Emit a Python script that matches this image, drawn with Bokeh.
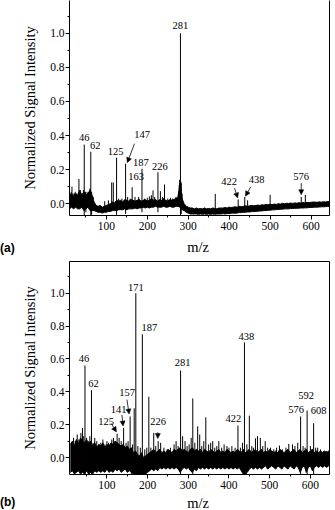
import numpy as np
from bokeh.plotting import figure
from bokeh.layouts import column
from bokeh.models import (Range1d, LinearAxis, FixedTicker, Arrow, NormalHead,
                          Div, ColumnDataSource, PrintfTickFormatter)
from bokeh.core.properties import value
from bokeh.embed import file_html
from bokeh.resources import INLINE

# m/z sampling grid of the baseline noise envelopes
MZ_GRID = list(range(10, 651, 5))

# ---------------- spectrum (a) ----------------
A_UPPER = [
    .05, .06, .04, .06, .05, .08, .05, .07, .05, .06,
    .08, .05, .01, -.01, -.015, -.01, -.02, -.015, -.01, -.005,
    .0, .01, .005, .02, .015, .02, .01, .025, .02, .015,
    .025, .02, .015, .02, .025, .015, .02, .025, .015, .02,
    .03, .02, .025, .015, .025, .02, .03, .02, .015, .025,
    .02, .025, .03, .04, .12, .03, .0, -.015, -.02, -.025,
    -.025, -.03, -.025, -.03, -.028, -.03, -.025, -.03, -.028, -.03,
    -.025, -.028, -.03, -.025, -.028, -.025, -.022, -.025, -.02, -.022,
    -.02, -.018, -.02, -.015, -.018, -.015, -.012, -.015, -.012, -.01,
    -.012, -.01, -.008, -.01, -.006, -.008, -.005, -.006, -.004, -.005,
    -.002, -.004, .0, -.002, .002, .0, .003, .001, .004, .002,
    .005, .003, .006, .004, .007, .005, .008, .006, .009, .007,
    .01, .008, .011, .009, .012, .01, .013, .011, .013,
]
A_LOWER = [
    -.03, -.02, -.03, -.02, -.03, -.03, -.02, -.04, -.03, -.02,
    -.04, -.04, -.04, -.045, -.05, -.05, -.055, -.05, -.05, -.045,
    -.045, -.04, -.04, -.04, -.035, -.035, -.035, -.03, -.035, -.03,
    -.03, -.03, -.025, -.03, -.025, -.025, -.02, -.025, -.02, -.025,
    -.02, -.02, -.015, -.02, -.02, -.02, -.015, -.02, -.02, -.015,
    -.02, -.02, -.015, -.015, -.02, -.035, -.04, -.05, -.055, -.06,
    -.06, -.06, -.06, -.062, -.06, -.062, -.06, -.062, -.06, -.062,
    -.06, -.062, -.06, -.06, -.06, -.058, -.06, -.058, -.058, -.056,
    -.055, -.056, -.054, -.052, -.052, -.05, -.05, -.048, -.048, -.046,
    -.046, -.045, -.044, -.042, -.042, -.04, -.04, -.038, -.038, -.036,
    -.036, -.034, -.034, -.032, -.032, -.03, -.03, -.03, -.028, -.028,
    -.027, -.027, -.026, -.025, -.025, -.024, -.024, -.022, -.022, -.021,
    -.02, -.02, -.019, -.018, -.018, -.017, -.016, -.016, -.015,
]
A_PEAK_MZ = [
    14, 16, 19, 22, 24, 28, 33, 36, 41, 44, 46, 49, 53, 57, 60, 62, 64, 68,
    96, 105, 113, 117, 125, 130, 138, 147, 152, 158,
    163, 170, 179, 187, 193, 200, 205, 210, 214, 218,
    226, 232, 237, 242, 250, 257, 262, 270, 276, 278, 279, 281, 282, 283, 285,
    366, 380, 422, 438, 445, 470, 500, 576, 586, 605,
]
A_PEAK_INT = [
    .07, .10, .06, .06, .07, .06, .145, .08, .06, .08, .347, .07, .07, .06, .09, .305, .07, .04,
    .015, .02, .125, .125, .27, .03, .03, .235, .04, .03,
    .097, .04, .04, .205, .03, .035, .043, .05, .078, .04,
    .185, .074, .04, .113, .03, .035, .03, .04, .07, .11, .14, 1.0, .13, .12, .06,
    .058, -.02, .025, .04, .02, -.01, .052, .04, .052, .015,
]
A_DIP_MZ = [46, 50, 62, 64, 125, 147, 187, 226, 281, 283]
A_DIP_INT = [-.07, -.05, -.07, -.065, -.065, -.06, -.05, -.05, -.07, -.06]
A_LABELS = [46, 62, 125, 147, 163, 187, 226, 281, 422, 438, 576]
A_ARROWED = [147, 422, 438, 576]

# ---------------- spectrum (b) ----------------
B_UPPER = [
    .08, .10, .07, .11, .08, .12, .10, .09, .11, .08,
    .10, .07, .09, .06, .08, .07, .09, .06, .08, .07,
    .09, .08, .10, .09, .08, .07, .08, .06, .07, .05,
    .06, .03, .04, .02, .01, .03, .0, .01, .02, .03,
    .04, .05, .03, .04, .05, .03, .04, .03, .05, .04,
    .03, .05, .04, .05, .06, .04, .05, .04, .03, .05,
    .06, .04, .05, .04, .05, .03, .05, .04, .03, .05,
    .04, .03, .04, .05, .03, .04, .03, .05, .04, .03,
    .04, .03, .05, .04, .03, .05, .03, .04, .05, .03,
    .04, .05, .03, .04, .05, .03, .04, .03, .05, .04,
    .03, .04, .03, .05, .04, .03, .04, .05, .03, .04,
    .05, .03, .04, .05, .03, .04, .05, .03, .04, .05,
    .03, .04, .03, .04, .03, .04, .03, .04, .03,
]
B_LOWER = [
    -.09, -.08, -.10, -.09, -.08, -.10, -.09, -.10, -.08, -.10,
    -.09, -.10, -.08, -.09, -.08, -.09, -.08, -.09, -.07, -.09,
    -.08, -.09, -.07, -.08, -.07, -.09, -.08, -.07, -.09, -.08,
    -.09, -.10, -.10, -.10, -.10, -.10, -.10, -.10, -.09, -.08,
    -.07, -.08, -.07, -.08, -.06, -.07, -.06, -.07, -.06, -.07,
    -.06, -.07, -.06, -.07, -.09, -.07, -.06, -.07, -.06, -.08,
    -.09, -.07, -.08, -.06, -.07, -.06, -.07, -.06, -.07, -.06,
    -.07, -.06, -.07, -.06, -.07, -.06, -.07, -.06, -.07, -.06,
    -.07, -.06, -.07, -.06, -.08, -.10, -.10, -.09, -.07, -.06,
    -.07, -.06, -.07, -.06, -.07, -.06, -.05, -.07, -.06, -.05,
    -.06, -.07, -.05, -.06, -.07, -.05, -.06, -.07, -.05, -.06,
    -.07, -.05, -.06, -.09, -.06, -.05, -.09, -.06, -.05, -.08,
    -.06, -.05, -.06, -.05, -.06, -.05, -.06, -.05, -.06,
]
B_PEAK_MZ = [
    18, 22, 27, 31, 36, 40, 43, 46, 50, 55, 58, 62, 66, 70, 75, 80, 85, 90, 95, 100,
    104, 108, 112, 116, 120, 125, 130, 135, 141, 147, 152, 157, 163, 167, 171, 176, 182, 187, 193, 198,
    203, 208, 215, 220, 226, 232, 240, 248, 256, 265, 270, 275, 281, 286, 292, 297, 302, 307, 311, 316,
    323, 328, 333, 338, 343, 350, 355, 360, 365, 370, 375, 382, 388, 395, 400, 407, 415, 422, 428, 433,
    438, 444, 450, 456, 460, 465, 470, 477, 483, 489, 495, 502, 510, 517, 524, 531, 540, 547, 556, 562,
    569, 576, 582, 587, 592, 600, 604, 608, 613, 618, 625, 632, 640,
]
B_PEAK_INT = [
    .12, .10, .14, .11, .15, .18, .13, .56, .12, .10, .13, .41, .09, .12, .10, .08, .09, .11, .08, .10,
    .09, .08, .11, .12, .10, .145, .12, .10, .18, .09, .10, .25, .08, .30, 1.0, .07, .06, .75, .05, .06,
    .37, .06, .15, .07, .10, .09, .06, .05, .06, .08, .10, .07, .53, .13, .10, .07, .08, .12, .36, .09,
    .19, .14, .07, .10, .245, .08, .09, .10, .06, .07, .10, .06, .08, .07, .06, .07, .06, .195, .06, .09,
    .70, .08, .255, .07, .06, .117, .13, .12, .07, .10, .06, .06, .05, .06, .073, .05, .06, .083, .08, .07,
    .09, .25, .07, .06, .286, .07, .05, .209, .06, .06, .05, .04, .04,
]
B_DIP_MZ = [46, 62, 160, 171, 176, 187, 195, 281, 311, 438, 442, 576, 592, 608]
B_DIP_INT = [-.10] * len(B_DIP_MZ)
B_LABELS = [46, 62, 125, 141, 157, 171, 187, 226, 281, 422, 438, 576, 592, 608]
B_ARROWED = [125, 141, 157, 226]

X_MAJOR = [100, 200, 300, 400, 500, 600]
X_MINOR = [50, 150, 250, 350, 450, 550, 650]
Y_MAJOR = [0.0, 0.2, 0.4, 0.6, 0.8, 1.0]
Y_MINOR = [0.1, 0.3, 0.5, 0.7, 0.9, 1.1]
X_TITLE = "m/z"
Y_TITLE = "Normalized Signal Intensity"

# label placement (pixels, right / up from the peak top)
A_LABEL_DX = [0, 4.5, -1, 16.5, 4, -1, 2, 0, -9, 12, 0]
A_LABEL_DY = [7.5, 6, 6, 29, 11, 6.5, 6, 7.5, 18, 17, 20]
# arrow tail and tip offsets (pixels) for the arrowed labels
A_ARROW_TAIL = [(9, 20), (-3.7, 11.3), (6, 10), (0, 13.8)]
A_ARROW_TIP = [(1.7, 1), (-0.5, 1.5), (0.7, 0.7), (0, 2.2)]

B_LABEL_DX = [-1, 2, -11, -5, -3, 0, 7, 0, 2, -4.5, 2, -4.5, -1, 5]
B_LABEL_DY = [7.5, 7, 12.5, 18.5, 23.5, 6, 7, 20, 8, 7.5, 6.5, 7, 15, 12.5]
B_ARROW_TAIL = [(-5.9, 10.3), (-1.7, 13.1), (-3.2, 16.9), (-0.4, 8.9)]
B_ARROW_TIP = [(-0.7, 1.8), (-0.5, 1.9), (-1, 2.4), (-0.4, 2.6)]

SERIF = "Liberation Serif"
W = 335


def blank_axis():
    return LinearAxis(ticker=FixedTicker(ticks=[]), major_tick_line_color=None,
                      minor_tick_line_color=None, major_label_text_color=None,
                      axis_line_color="black", axis_line_width=1)


def panel(upper, lower, pk_mz, pk_int, dip_mz, dip_int, labels, lab_dx, lab_dy,
          arrowed, tails, tips, xr, yr, borders, height, top_line):
    bl, br, bt, bb = borders
    p = figure(width=W, height=height, x_range=Range1d(*xr), y_range=Range1d(*yr),
               output_backend="svg", toolbar_location=None,
               min_border_left=bl, min_border_right=br, min_border_top=bt,
               min_border_bottom=bb, outline_line_color=None,
               background_fill_color="white", border_fill_color="white")
    p.grid.visible = False
    sx = (W - bl - br) / (xr[1] - xr[0])
    sy = (height - bt - bb) / (yr[1] - yr[0])

    grid = np.array(MZ_GRID, dtype=float)
    up = np.array(upper)
    lo = np.array(lower)
    mid = (up + lo) / 2

    # noise band
    p.varea(x=grid, y1=lo, y2=up, fill_color="black")
    p.line(grid, up, line_color="black", line_width=1)
    p.line(grid, lo, line_color="black", line_width=1)

    # peaks and negative excursions as sticks leaving the band
    pm = np.array(pk_mz, dtype=float)
    p.segment(x0=pm, y0=np.interp(pm, grid, mid), x1=pm, y1=pk_int,
              line_color="black", line_width=1)
    dm = np.array(dip_mz, dtype=float)
    p.segment(x0=dm, y0=np.interp(dm, grid, mid), x1=dm, y1=dip_int,
              line_color="black", line_width=1)

    heights = dict(zip(pk_mz, pk_int))
    src = ColumnDataSource(dict(
        x=labels, y=[heights[m] for m in labels], text=[str(m) for m in labels],
        xo=lab_dx, yo=[-d for d in lab_dy]))
    p.text(x="x", y="y", text="text", x_offset="xo", y_offset="yo", source=src,
           text_align="center", text_baseline="middle", text_color="black",
           text_font=value(SERIF), text_font_size=value("10.5px"))

    for m, (tx, ty), (hx, hy) in zip(arrowed, tails, tips):
        h = heights[m]
        p.add_layout(Arrow(
            end=NormalHead(size=5, fill_color="black", line_color="black", line_width=0.5),
            x_start=m + tx / sx, y_start=h + ty / sy,
            x_end=m + hx / sx, y_end=h + hy / sy,
            line_color="black", line_width=0.8))

    xa = p.xaxis[0]
    xa.ticker = FixedTicker(ticks=X_MAJOR, minor_ticks=X_MINOR)
    ya = p.yaxis[0]
    ya.ticker = FixedTicker(ticks=Y_MAJOR, minor_ticks=Y_MINOR)
    ya.formatter = PrintfTickFormatter(format="%.1f")
    for ax in (xa, ya):
        ax.axis_line_color = "black"
        ax.axis_line_width = 1
        ax.major_tick_line_color = "black"
        ax.minor_tick_line_color = "black"
        ax.major_tick_in = 0
        ax.major_tick_out = 4
        ax.minor_tick_in = 0
        ax.minor_tick_out = 2
        ax.major_label_text_font = SERIF
        ax.major_label_text_font_size = "11.5px"
        ax.major_label_text_color = "black"
        ax.axis_label_text_font = SERIF
        ax.axis_label_text_font_style = "normal"
        ax.axis_label_text_font_size = "14.5px"
        ax.axis_label_text_color = "black"
    xa.major_label_standoff = 2
    ya.axis_label = Y_TITLE
    ya.major_label_standoff = 1
    ya.axis_label_standoff = 9

    p.add_layout(blank_axis(), "right")
    if top_line:
        p.add_layout(blank_axis(), "above")
    return p


def caption(tag, height, tag_top, title_top):
    # strip under each spectrum: panel tag on the left, x-axis title centred on the frame
    html = (
        f'<div style="position:relative;width:{W}px;height:{height}px;overflow:hidden;">'
        f'<span style="position:absolute;left:0px;top:{tag_top}px;line-height:1;'
        f'font-family:\'Liberation Sans\';font-weight:bold;font-size:12px;color:#000;">{tag}</span>'
        f'<span style="position:absolute;left:198px;top:{title_top}px;line-height:1;'
        f'transform:translateX(-50%);font-family:\'{SERIF}\';font-size:14.5px;color:#000;">{X_TITLE}</span>'
        '</div>'
    )
    return Div(text=html, width=W, height=height, margin=(0, 0, 0, 0))


pa = panel(A_UPPER, A_LOWER, A_PEAK_MZ, A_PEAK_INT, A_DIP_MZ, A_DIP_INT,
           A_LABELS, A_LABEL_DX, A_LABEL_DY, A_ARROWED, A_ARROW_TAIL, A_ARROW_TIP,
           (10, 645), (-0.069, 1.192), (67, 6, 0, 18), 233, False)
ca = caption("(a)", 22, 9, 6.5)
pb = panel(B_UPPER, B_LOWER, B_PEAK_MZ, B_PEAK_INT, B_DIP_MZ, B_DIP_INT,
           B_LABELS, B_LABEL_DX, B_LABEL_DY, B_ARROWED, B_ARROW_TAIL, B_ARROW_TIP,
           (8, 647), (-0.103, 1.193), (69, 6, 6, 18), 237, True)
cb = caption("(b)", 18, 4, 4)

layout = column(pa, ca, pb, cb, spacing=0)
open("out.html", "w").write(file_html(layout, INLINE))
